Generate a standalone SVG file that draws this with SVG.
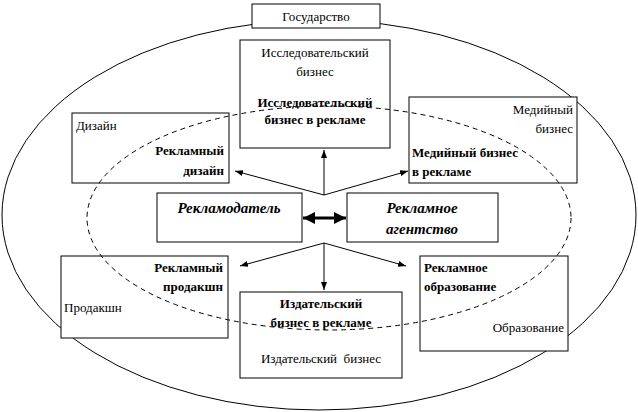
<svg xmlns="http://www.w3.org/2000/svg" width="638" height="412" viewBox="0 0 638 412">
<style>
.b{fill:#fff;stroke:#000;stroke-width:1}
text{font-family:"Liberation Serif","DejaVu Serif","Times New Roman",serif;font-size:13px;fill:#000}
.bd{font-weight:bold}
.bi{font-weight:bold;font-style:italic;font-size:15px}
.c{stroke:#000;stroke-width:1;fill:none;marker-end:url(#a)}
</style>
<defs>
<marker id="a" markerWidth="8" markerHeight="6" refX="8" refY="3" orient="auto" markerUnits="userSpaceOnUse"><path d="M0,0L8,3L0,6z"/></marker>
<marker id="A" markerWidth="12" markerHeight="12" refX="12" refY="6" orient="auto-start-reverse" markerUnits="userSpaceOnUse"><path d="M0,0L12,6L0,12z"/></marker>
</defs>
<ellipse cx="319" cy="215" rx="317" ry="195" fill="none" stroke="#000"/>
<g id="gos"><rect class="b" x="252" y="4" width="128" height="24"/><text x="316" y="21" text-anchor="middle" font-size="15">Государство</text></g>
<g id="issl"><rect class="b" x="240" y="40" width="150" height="108"/><text x="315" y="57" text-anchor="middle">Исследовательский</text><text x="315" y="76" text-anchor="middle">бизнес</text><text class="bd" x="315" y="107" text-anchor="middle">Исследовательский</text><text class="bd" x="315" y="124" text-anchor="middle">бизнес в рекламе</text></g>
<g id="diz"><rect class="b" x="72" y="113" width="157" height="70"/><text x="76" y="130">Дизайн</text><text class="bd" x="224" y="155" text-anchor="end">Рекламный</text><text class="bd" x="224" y="175" text-anchor="end">дизайн</text></g>
<g id="med"><rect class="b" x="409" y="97" width="168" height="86"/><text x="573" y="114" text-anchor="end">Медийный</text><text x="573" y="133" text-anchor="end">бизнес</text><text class="bd" x="412" y="157">Медийный бизнес</text><text class="bd" x="412" y="176">в рекламе</text></g>
<g id="rd"><rect class="b" x="157" y="193" width="145" height="49"/><text class="bi" x="229" y="213" text-anchor="middle">Рекламодатель</text></g>
<g id="ra"><rect class="b" x="347" y="193" width="151" height="49"/><text class="bi" x="422" y="213" text-anchor="middle">Рекламное</text><text class="bi" x="422" y="234" text-anchor="middle">агентство</text></g>
<g id="prod"><rect class="b" x="61" y="256" width="167" height="82"/><text class="bd" x="223" y="272" text-anchor="end">Рекламный</text><text class="bd" x="223" y="291" text-anchor="end">продакшн</text><text x="64" y="312">Продакшн</text></g>
<g id="izd"><rect class="b" x="240" y="292" width="162" height="86"/><text class="bd" x="321" y="308" text-anchor="middle">Издательский</text><text class="bd" x="321" y="327" text-anchor="middle">бизнес в рекламе</text><text x="321" y="363" text-anchor="middle" xml:space="preserve">Издательский  бизнес</text></g>
<g id="obr"><rect class="b" x="420" y="256" width="148" height="95"/><text class="bd" x="424" y="272">Рекламное</text><text class="bd" x="424" y="291">образование</text><text x="564" y="332" text-anchor="end">Образование</text></g>
<ellipse cx="329" cy="218" rx="242" ry="112" fill="none" stroke="#000" stroke-dasharray="5,4"/>
<g id="conn">
<path class="c" d="M324,195V150"/>
<path class="c" d="M324,195L235,171"/>
<path class="c" d="M324,195L408,171"/>
<path class="c" d="M324,243L240,266"/>
<path class="c" d="M324,243L406,266"/>
<path class="c" d="M324,243V290"/>
<path d="M303,218H346" stroke="#000" stroke-width="3" marker-start="url(#A)" marker-end="url(#A)"/>
</g>
</svg>
